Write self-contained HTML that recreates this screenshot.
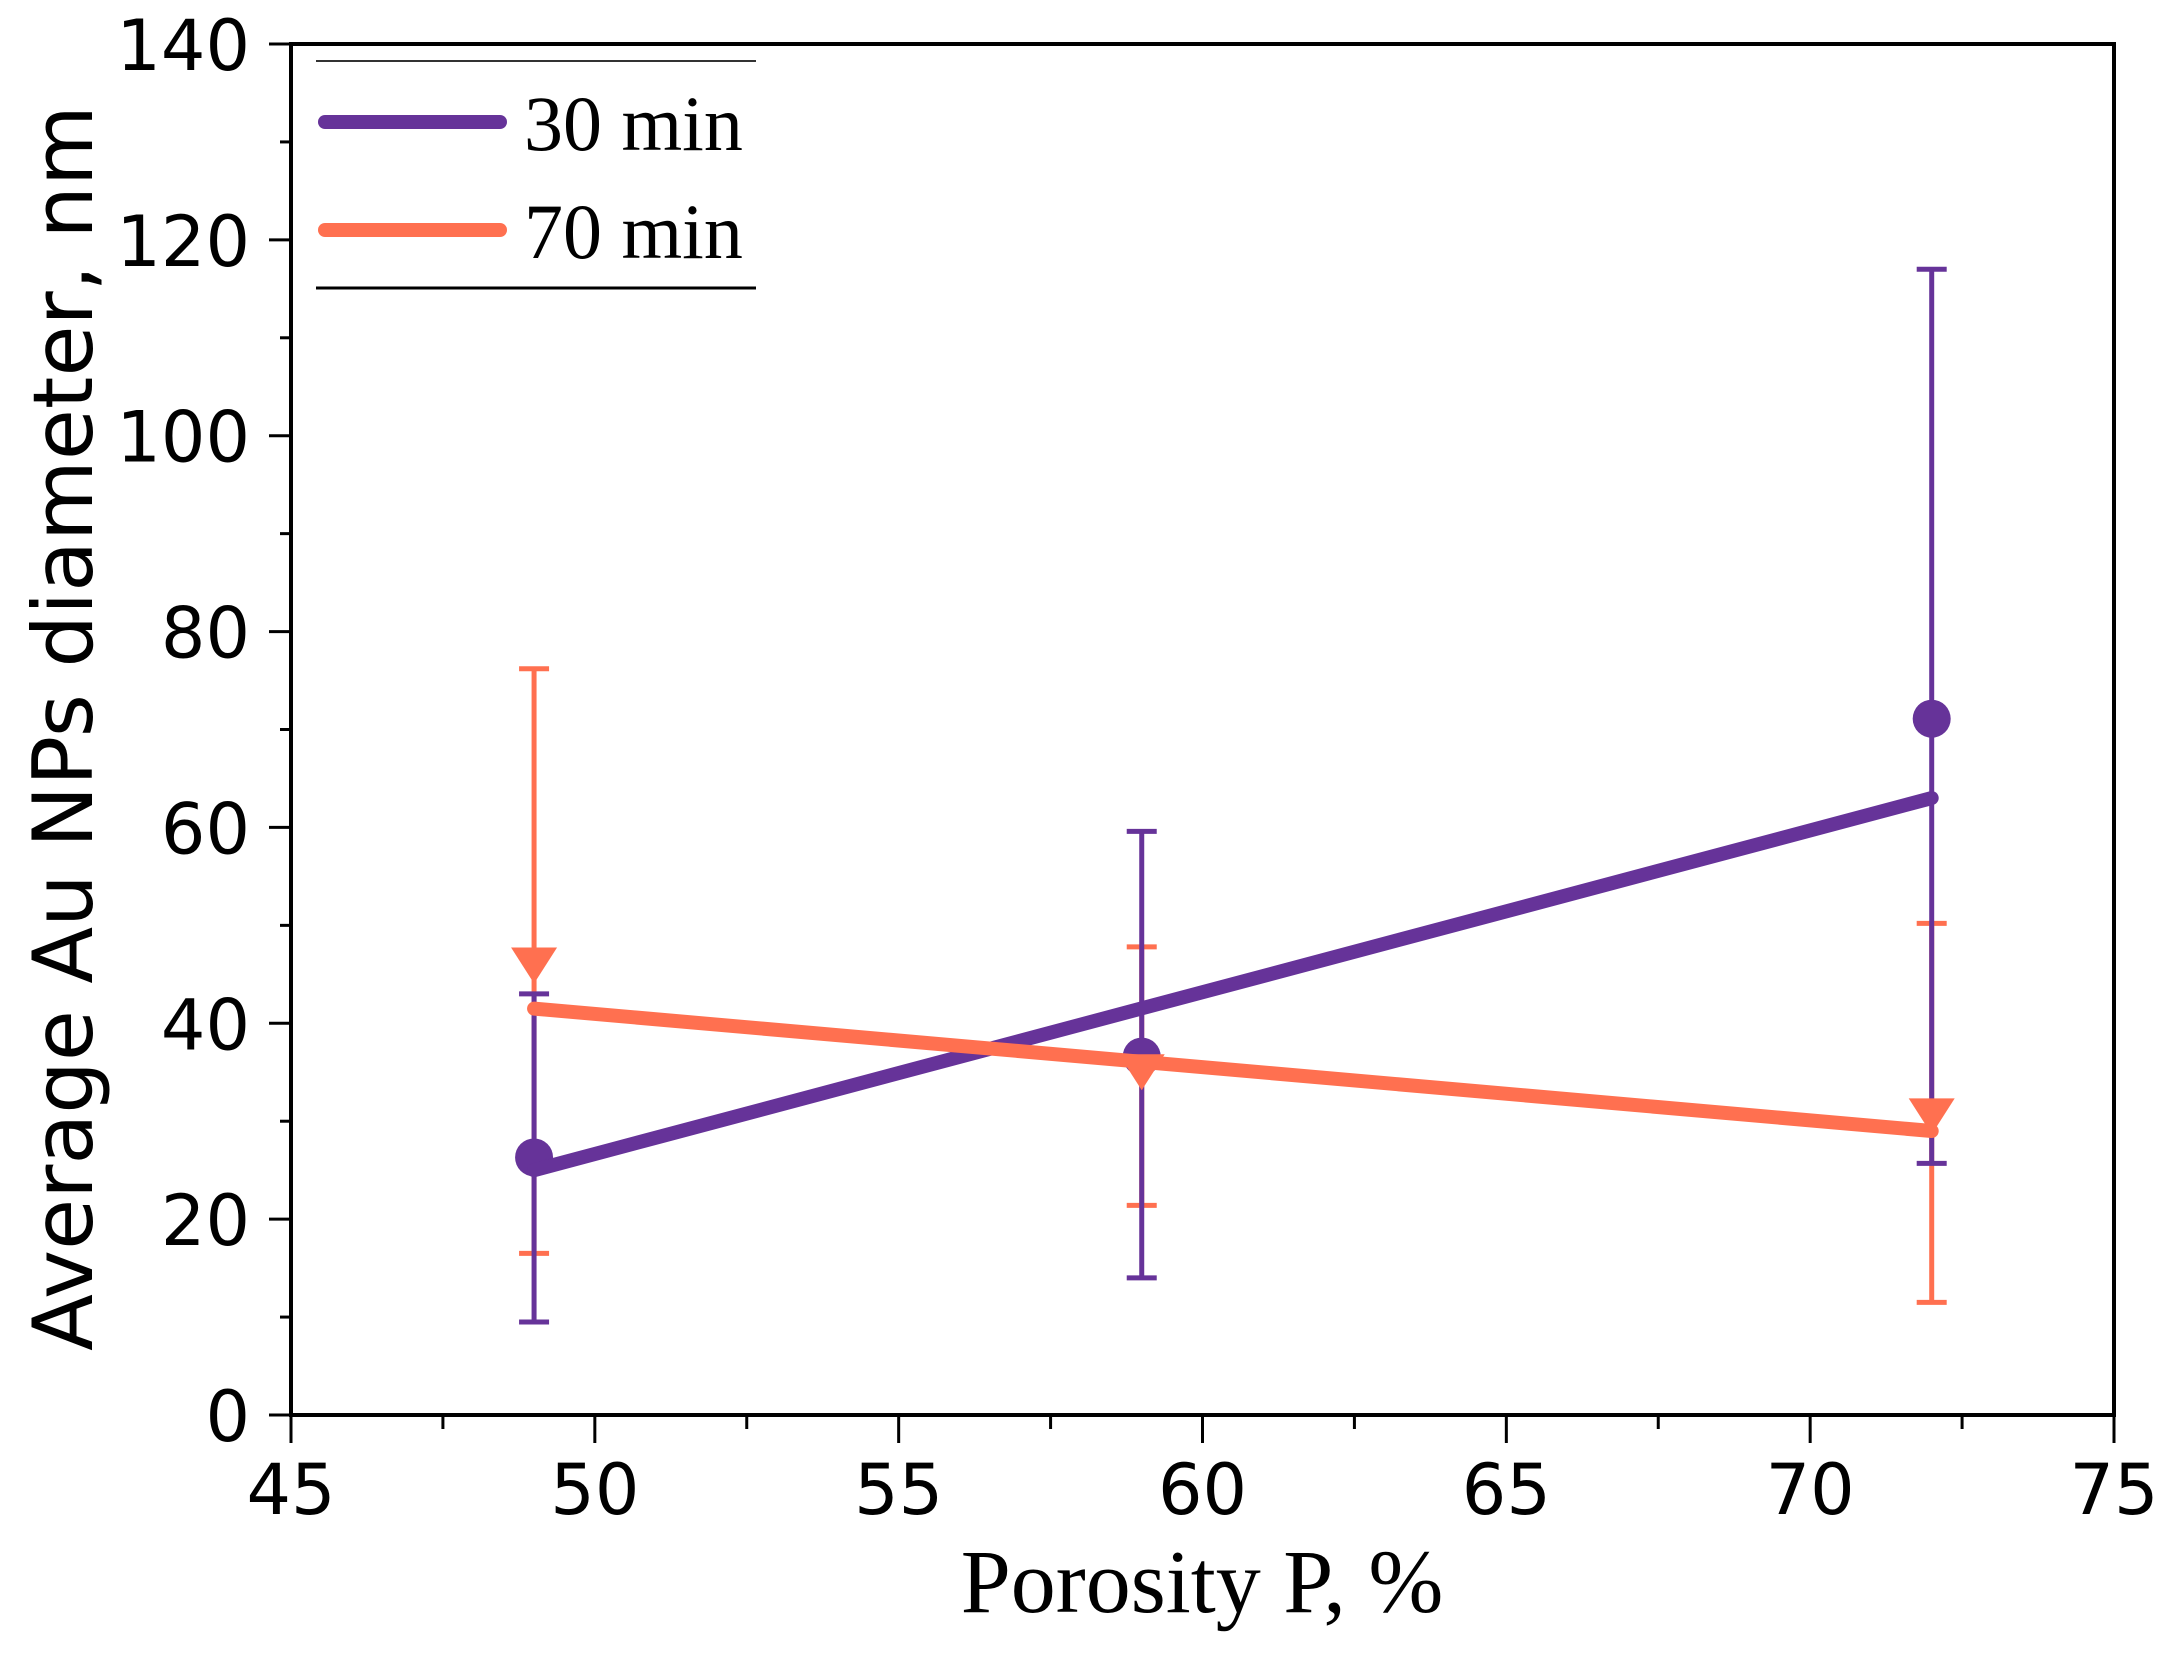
<!DOCTYPE html>
<html><head><meta charset="utf-8"><style>
html,body{margin:0;padding:0;background:#fff;}
svg{display:block;}
</style></head><body>
<svg id="chart" width="2171" height="1655" viewBox="0 0 2171 1655" xmlns="http://www.w3.org/2000/svg">
<g id="axes"></g>
<g id="series"></g>
<g id="legend"></g>
</svg>
<script>
const xTicks = [45, 50, 55, 60, 65, 70, 75];
const yTicks = [0, 20, 40, 60, 80, 100, 120, 140];
const porosity = [49, 59, 72];
const d30 = [26.3, 36.6, 71.1];
const d30Low = [9.5, 14, 25.7];
const d30High = [43, 59.6, 117];
const fit30 = [25, 63];
const d70 = [45.9, 35.0, 30.5];
const d70Low = [16.5, 21.4, 11.5];
const d70High = [76.2, 47.8, 50.2];
const fit70 = [41.5, 29];
const fitX = [49, 72];

const L=291, R=2114, T=44, B=1415;
const xMin=45, xMax=75, yMin=0, yMax=140;
function sx(v){return L+(v-xMin)/(xMax-xMin)*(R-L);}
function sy(v){return B-(v-yMin)/(yMax-yMin)*(B-T);}
const NS="http://www.w3.org/2000/svg";
function mk(parent, tag, attrs){const e=document.createElementNS(NS,tag);for(const k in attrs)e.setAttribute(k,attrs[k]);parent.appendChild(e);return e;}
const axes=document.getElementById('axes'), series=document.getElementById('series'), legend=document.getElementById('legend');
const PURPLE="#663399", ORANGE="#ff7050";

let frame=mk(axes,'rect',{x:L,y:T,width:R-L,height:B-T,fill:'none',stroke:'#000','stroke-width':4});



xTicks.forEach((v,i)=>{
  let t=mk(axes,'line',{x1:sx(v),x2:sx(v),y1:B,y2:B+28,stroke:'#000','stroke-width':3});
  
  
  if(i<xTicks.length-1){
    let m=mk(axes,'line',{x1:sx(v+2.5),x2:sx(v+2.5),y1:B,y2:B+14,stroke:'#000','stroke-width':3});
    
    
  }
  let lb=mk(axes,'text',{x:sx(v),y:1514,'text-anchor':'middle','font-family':'"DejaVu Sans","Liberation Sans",sans-serif','font-size':70,fill:'#000'});
  lb.textContent=v;
  
  
});
yTicks.forEach((v,i)=>{
  let t=mk(axes,'line',{x1:L-22,x2:L,y1:sy(v),y2:sy(v),stroke:'#000','stroke-width':3});
  
  
  if(i<yTicks.length-1){
    let m=mk(axes,'line',{x1:L-11,x2:L,y1:sy(v+10),y2:sy(v+10),stroke:'#000','stroke-width':3});
    
    
  }
  let lb=mk(axes,'text',{x:250,y:sy(v)+26,'text-anchor':'end','font-family':'"DejaVu Sans","Liberation Sans",sans-serif','font-size':70,fill:'#000'});
  lb.textContent=v;
  
  
});
let xt=mk(axes,'text',{x:1202,y:1612,'text-anchor':'middle','font-family':'"Liberation Serif",serif','font-size':90,fill:'#000'});
xt.textContent='Porosity P, %';


let yt=mk(axes,'text',{x:0,y:0,'text-anchor':'middle','font-family':'"DejaVu Sans","Liberation Sans",sans-serif','font-size':83,fill:'#000',transform:'translate(92,728) rotate(-90)'});
yt.textContent='Average Au NPs diameter, nm';



function errBars(lo,hi,color,name){
  porosity.forEach((p,i)=>{
    let g=mk(series,'g',{});
    
    
    mk(g,'line',{x1:sx(p),x2:sx(p),y1:sy(lo[i]),y2:sy(hi[i]),stroke:color,'stroke-width':5});
    mk(g,'line',{x1:sx(p)-15,x2:sx(p)+15,y1:sy(lo[i]),y2:sy(lo[i]),stroke:color,'stroke-width':5});
    mk(g,'line',{x1:sx(p)-15,x2:sx(p)+15,y1:sy(hi[i]),y2:sy(hi[i]),stroke:color,'stroke-width':5});
  });
}
errBars(d70Low,d70High,ORANGE,'error-bar-70min');
errBars(d30Low,d30High,PURPLE,'error-bar-30min');
porosity.forEach((p,i)=>{
  let c=mk(series,'circle',{cx:sx(p),cy:sy(d30[i]),r:19,fill:PURPLE});
  
  
});
porosity.forEach((p,i)=>{
  const x=sx(p),y=sy(d70[i]);
  let t=mk(series,'polygon',{points:`${x-23},${y-18} ${x+23},${y-18} ${x},${y+18}`,fill:ORANGE});
  
  
});
let f30=mk(series,'line',{x1:sx(fitX[0]),y1:sy(fit30[0]),x2:sx(fitX[1]),y2:sy(fit30[1]),stroke:PURPLE,'stroke-width':14,'stroke-linecap':'round'});


let f70=mk(series,'line',{x1:sx(fitX[0]),y1:sy(fit70[0]),x2:sx(fitX[1]),y2:sy(fit70[1]),stroke:ORANGE,'stroke-width':14,'stroke-linecap':'round'});



mk(legend,'line',{x1:316,x2:756,y1:61,y2:61,stroke:'#333','stroke-width':2});
mk(legend,'line',{x1:316,x2:756,y1:288,y2:288,stroke:'#000','stroke-width':3});
let e1=mk(legend,'g',{});


mk(e1,'line',{x1:325,x2:500,y1:122,y2:122,stroke:PURPLE,'stroke-width':14,'stroke-linecap':'round'});
let t1=mk(e1,'text',{x:524,y:150,'font-family':'"Liberation Serif",serif','font-size':78,fill:'#000'});t1.textContent='30 min';
let e2=mk(legend,'g',{});


mk(e2,'line',{x1:325,x2:500,y1:230,y2:230,stroke:ORANGE,'stroke-width':14,'stroke-linecap':'round'});
let t2=mk(e2,'text',{x:524,y:258,'font-family':'"Liberation Serif",serif','font-size':78,fill:'#000'});t2.textContent='70 min';
</script>
</body></html>
